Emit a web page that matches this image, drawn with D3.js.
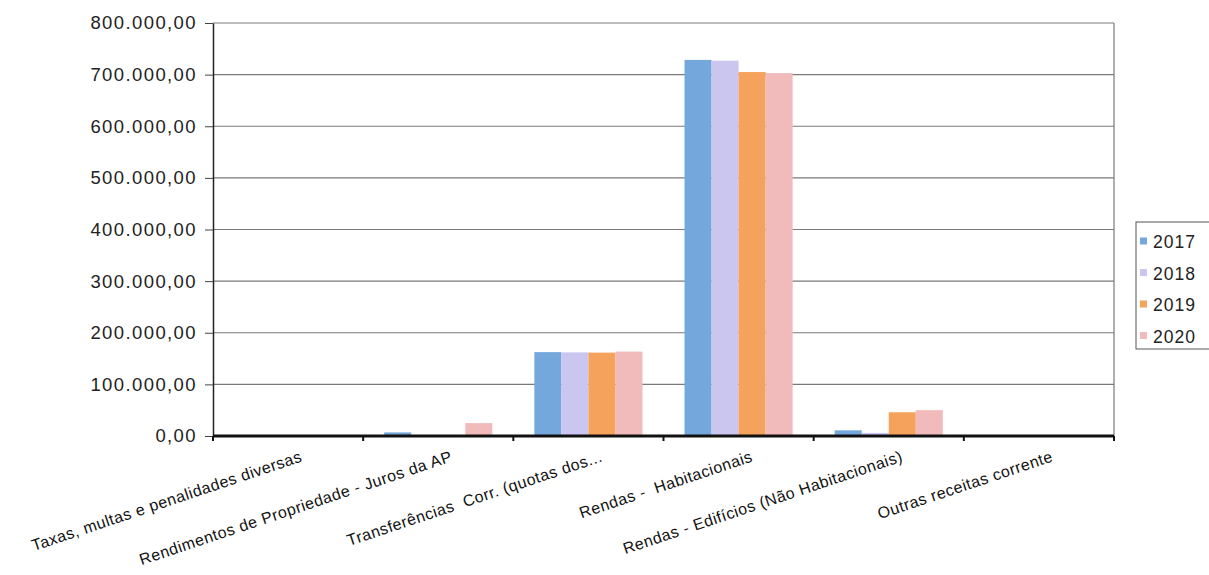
<!DOCTYPE html>
<html><head><meta charset="utf-8">
<script src="https://cdn.jsdelivr.net/npm/d3@7"></script>
<style>body{margin:0;background:#fff}svg{display:block}text{font-family:Arial,"Liberation Sans",sans-serif;white-space:pre}</style>
</head><body><svg id="c" width="1209" height="575"></svg>
<script>
const categories = ["Taxas, multas e penalidades diversas","Rendimentos de Propriedade - Juros da AP","Transferências  Corr. (quotas dos...","Rendas -  Habitacionais","Rendas - Edifícios (Não Habitacionais)","Outras receitas corrente"];
const years = ["2017","2018","2019","2020"];
const v2017 = [0, 7000, 162500, 728500, 11000, 0];
const v2018 = [0, 0, 162000, 727000, 6000, 0];
const v2019 = [0, 0, 161500, 705000, 46000, 0];
const v2020 = [0, 25000, 163500, 703000, 50000, 0];
const yTicks = [0,100000,200000,300000,400000,500000,600000,700000,800000];
const colors = ["#74a8dc","#cac6ef","#f5a35c","#f1bbbb"];
const series = [v2017, v2018, v2019, v2020];

const svg = d3.select("#c");
const L = 213, R = 1114, T = 23, B = 436;
const y = d3.scaleLinear().domain([0,800000]).range([B,T]);
const x0 = d3.scaleBand().domain(categories).range([L,R]).paddingInner(0.28).paddingOuter(0.14);
const x1 = d3.scaleBand().domain(years).range([0,x0.bandwidth()]);
const fmt = v => { const s = d3.format(",.2f")(v); return s.replace(/,/g,"#").replace(".",",").replace(/#/g,"."); };

// gridlines
svg.append("g").selectAll("line").data(yTicks.filter(d=>d>0)).join("line")
  .attr("x1",L).attr("x2",R).attr("y1",d=>y(d)).attr("y2",d=>y(d))
  .attr("stroke","#7a7a7a").attr("stroke-width",1.2);
// right border
svg.append("line").attr("x1",R).attr("x2",R).attr("y1",T).attr("y2",B).attr("stroke","#7a7a7a").attr("stroke-width",1.2);

// bars
const g = svg.append("g");
years.forEach((yr,i)=>{
  g.append("g").selectAll("rect").data(series[i]).join("rect")
    .attr("x",(d,j)=>x0(categories[j])+x1(yr))
    .attr("width",x1.bandwidth())
    .attr("y",d=>y(d)).attr("height",d=>B-y(d))
    .attr("fill",colors[i]);
});

// y axis
const ya = svg.append("g").attr("transform",`translate(${L},0)`)
  .call(d3.axisLeft(y).tickValues(yTicks).tickFormat(fmt).tickSize(8).tickSizeOuter(0));
ya.select(".domain").attr("stroke","#222").attr("stroke-width",1.5);
ya.selectAll(".tick line").attr("stroke","#444");
ya.selectAll(".tick text").attr("font-size",18.5).attr("letter-spacing","1.4px").attr("fill","#222")
  .attr("x",-16).attr("font-family","Arial, 'Liberation Sans', sans-serif");

// x axis baseline
const xTickPos = d3.range(categories.length+1).map(i=>L+i*(R-L)/categories.length);
svg.append("line").attr("x1",L).attr("x2",R).attr("y1",B).attr("y2",B).attr("stroke","#111").attr("stroke-width",3);
svg.append("g").selectAll("line").data(xTickPos).join("line")
  .attr("x1",d=>d).attr("x2",d=>d).attr("y1",B).attr("y2",B+5).attr("stroke","#111").attr("stroke-width",2);

// category labels
svg.append("g").selectAll("text").data(categories).join("text")
  .attr("transform",d=>`translate(${x0(d)+x0.bandwidth()/2+15},${B+25}) rotate(-18.5)`)
  .attr("text-anchor","end").attr("font-size",16).attr("letter-spacing","0.5px").attr("fill","#111").text(d=>d);

// legend
const lg = svg.append("g");
lg.append("rect").attr("x",1136).attr("y",222).attr("width",80).attr("height",127).attr("fill","none").attr("stroke","#555").attr("stroke-width",1);
years.forEach((yr,i)=>{
  const cy = 241 + i*31.5;
  lg.append("rect").attr("x",1140).attr("y",cy-3.5).attr("width",7).attr("height",7).attr("fill",colors[i]);
  lg.append("text").attr("x",1153).attr("y",cy+7).attr("font-size",17.5).attr("letter-spacing","1px").attr("fill","#222").text(yr);
});
</script></body></html>
